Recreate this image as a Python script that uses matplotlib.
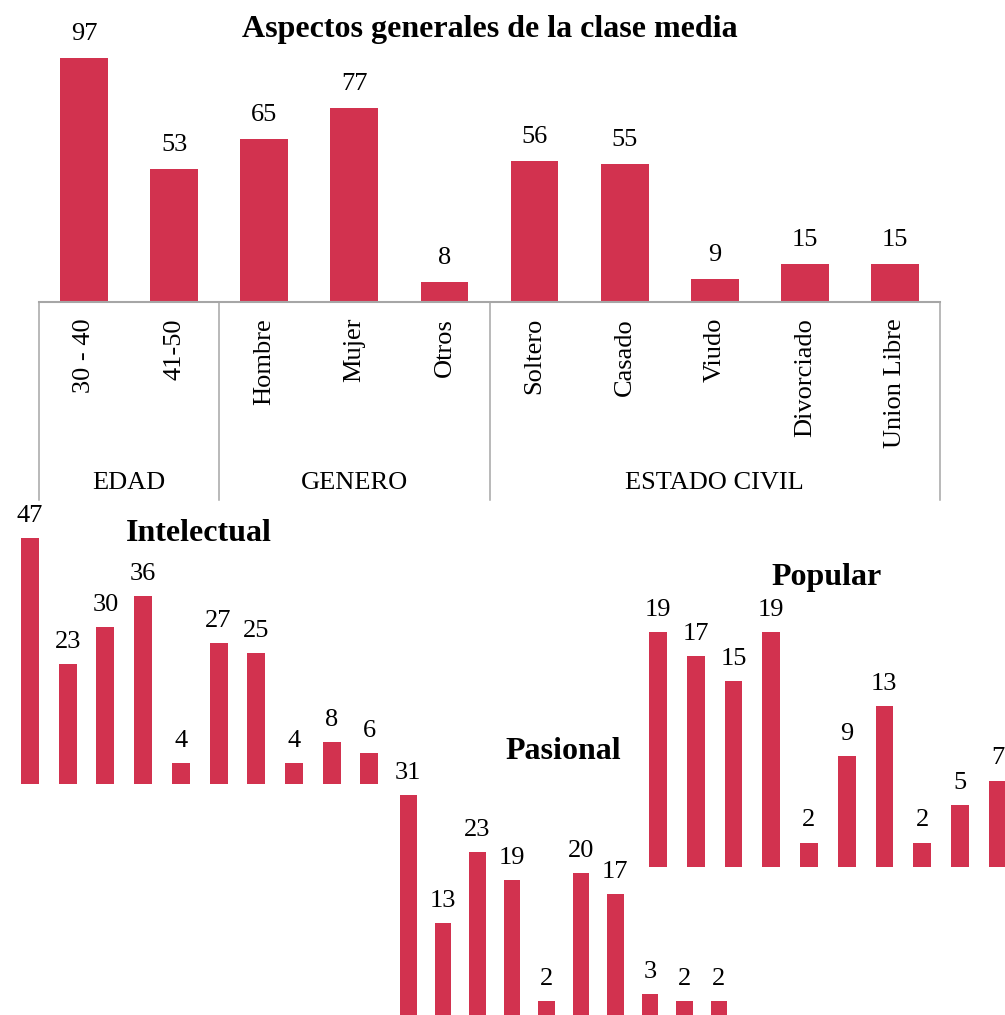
import matplotlib
matplotlib.use("Agg")
import matplotlib.pyplot as plt

# Datos generales de la clase media
categorias = ["30 - 40", "41-50", "Hombre", "Mujer", "Otros",
              "Soltero", "Casado", "Viudo", "Divorciado", "Union Libre"]
valores = [97, 53, 65, 77, 8, 56, 55, 9, 15, 15]
grupos = ["EDAD", "GENERO", "ESTADO CIVIL"]
limites_grupos = [-0.5, 1.5, 4.5, 9.5]

# Tipos de clase media
intelectual = [47, 23, 30, 36, 4, 27, 25, 4, 8, 6]
pasional = [31, 13, 23, 19, 2, 20, 17, 3, 2, 2]
popular = [19, 17, 15, 19, 2, 9, 13, 2, 5, 7]

COLOR = "#D2324F"
GRIS = "#A6A6A6"
W, H = 1005, 1015

plt.rcParams["font.family"] = ["Liberation Serif", "DejaVu Serif"]

fig = plt.figure(figsize=(W / 100, H / 100), dpi=100)


def add_px_axes(left, top, right, bottom):
    ax = fig.add_axes([left / W, 1 - bottom / H, (right - left) / W, (bottom - top) / H])
    ax.patch.set_alpha(0)
    return ax


def small_chart(values, left, step, baseline, px_per_unit, bar_px, title, title_xy):
    right = left + step * len(values)
    top = baseline - 300
    ax = add_px_axes(left, top, right, baseline)
    ax.set_xlim(-0.5, len(values) - 0.5)
    ax.set_ylim(0, 300 / px_per_unit)
    ax.bar(range(len(values)), values, width=bar_px / step, color=COLOR)
    for i, v in enumerate(values):
        ax.annotate(str(v), (i, v), xytext=(0, 16), textcoords="offset pixels",
                    ha="center", va="baseline", fontsize=19)
    ax.axis("off")
    fig.text(title_xy[0] / W, 1 - title_xy[1] / H, title, ha="center",
             va="baseline", fontsize=23, fontweight="bold")


# Grafico superior
scale = 2.515
ax = add_px_axes(39, 40, 940, 302)
ax.set_xlim(-0.5, 9.5)
ax.set_ylim(0, 262 / scale)
ax.bar(range(len(valores)), valores, width=0.53, color=COLOR)
for i, v in enumerate(valores):
    ax.annotate(str(v), (i, v), xytext=(0, 18), textcoords="offset pixels",
                ha="center", va="baseline", fontsize=19)
    ax.annotate(categorias[i], (i, 0), xytext=(0, -16), textcoords="offset pixels",
                ha="center", va="top", rotation=90, fontsize=19)
for x in limites_grupos:
    ax.plot([x, x], [0, -198 / scale], color=GRIS, lw=1.1, clip_on=False)
for g, a, b in zip(grupos, limites_grupos[:-1], limites_grupos[1:]):
    ax.annotate(g, ((a + b) / 2, 0), xytext=(0, -181), textcoords="offset pixels",
                ha="center", va="center", fontsize=19)
for s in ["top", "left", "right"]:
    ax.spines[s].set_visible(False)
ax.spines["bottom"].set_color(GRIS)
ax.spines["bottom"].set_linewidth(1.5)
ax.set_xticks([])
ax.set_yticks([])
fig.text(490 / W, 1 - 37 / H, "Aspectos generales de la clase media",
         ha="center", va="baseline", fontsize=23, fontweight="bold")

# Graficos inferiores
small_chart(intelectual, 11.15, 37.7, 784, 5.23, 18, "Intelectual", (199, 541))
small_chart(pasional, 391.1, 34.5, 1015, 7.09, 16.7, "Pasional", (563, 759))
small_chart(popular, 639.3, 37.7, 867.3, 12.4, 17.7, "Popular", (827, 585))

fig.savefig("out.png", dpi=100)
